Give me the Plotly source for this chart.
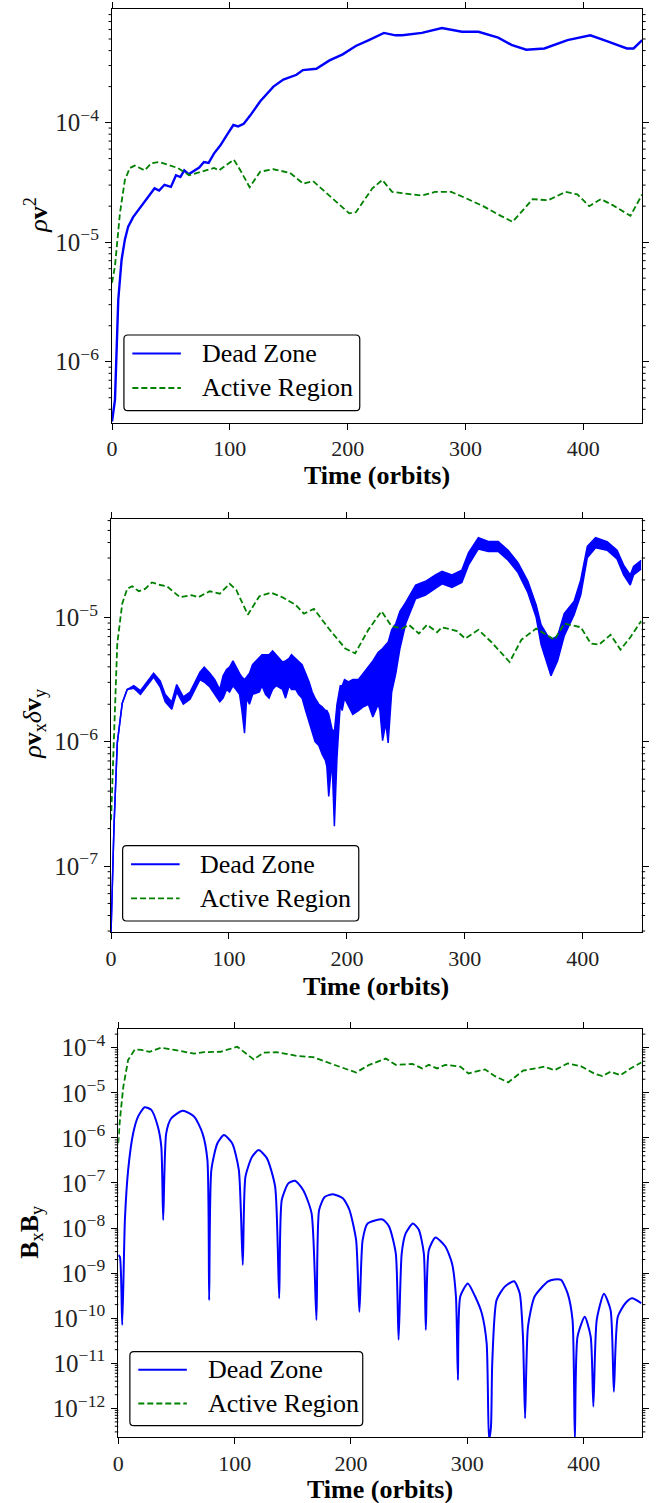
import math
import plotly.graph_objects as go

# ---------------- data ----------------
# Panel 1: rho v^2
p1_dead_t = [0, 2.5, 5.3, 8.1, 10.9, 13.7, 17.9, 24.9, 30.5, 36.1, 40, 44.5, 50, 54.3, 58, 61.3, 65, 69.7, 74, 78,
             82, 86.5, 92, 97.7, 103, 107, 111.8, 117.4, 125.8, 137, 145.4, 156.6, 162, 173.4, 184.6, 195.8,
             206.9, 218, 230.8, 240.6, 246.4, 263, 280, 297, 311, 327.8, 339, 351.6, 367, 386.6, 406, 420,
             437, 442.7, 450]
p1_dead_v = [3.16e-7, 4.8e-7, 3.3e-6, 7.1e-6, 1.05e-5, 1.35e-5, 1.62e-5, 2.0e-5, 2.4e-5, 2.82e-5, 2.7e-5, 3.02e-5,
             2.9e-5, 3.63e-5, 3.5e-5, 3.98e-5, 3.7e-5, 3.98e-5, 4.2e-5, 4.68e-5,
             4.6e-5, 5.5e-5, 6.46e-5, 7.94e-5, 9.55e-5, 9.3e-5, 9.77e-5, 1.15e-4, 1.51e-4, 2.0e-4, 2.29e-4, 2.51e-4,
             2.75e-4, 2.82e-4, 3.31e-4, 3.72e-4,
             4.37e-4, 4.9e-4, 5.62e-4, 5.37e-4, 5.37e-4, 5.62e-4, 6.17e-4, 5.75e-4, 5.75e-4, 5.13e-4, 4.47e-4,
             4.07e-4, 4.17e-4, 4.9e-4, 5.37e-4, 4.79e-4,
             4.17e-4, 4.17e-4, 4.9e-4]
p1_active_t = [0, 2.5, 6.7, 10.9, 15.1, 19.3, 27.7, 33.3, 40.3, 47.3, 55.7, 65.5, 75.4, 86.6, 90.8, 103.4, 109,
               116.8, 125.8, 137, 151, 162.2, 170.6, 184.6, 201.4, 207, 221, 229.4, 237.8, 246.2, 263, 274, 288,
               300, 315, 330, 340, 350, 357, 370, 385, 395, 405, 415, 425, 440, 450]
p1_active_v = [4.57e-6, 6.31e-6, 1.74e-5, 3.31e-5, 4.17e-5, 4.37e-5, 3.98e-5, 4.57e-5, 4.68e-5, 4.47e-5, 4.17e-5,
               3.63e-5, 3.89e-5, 4.17e-5, 3.98e-5, 4.9e-5, 3.98e-5,
               2.88e-5, 3.89e-5, 4.07e-5, 3.8e-5, 3.09e-5, 3.24e-5, 2.45e-5, 1.74e-5, 1.78e-5, 2.82e-5, 3.31e-5,
               2.63e-5, 2.57e-5, 2.45e-5, 2.63e-5, 2.63e-5,
               2.34e-5, 2.0e-5, 1.66e-5, 1.48e-5, 1.91e-5, 2.29e-5, 2.24e-5, 2.63e-5, 2.51e-5, 2.0e-5, 2.29e-5,
               2.04e-5, 1.66e-5, 2.51e-5]

# Panel 2: rho vx dvy  (Dead Zone drawn as its upper/lower noise envelope)
p2_dead_t = [0, 2.5, 5.3, 9.5, 13.7, 19.3, 24.9, 30.5, 36.1, 41.7, 46, 51.5, 55.7, 61.3, 67, 75.4, 79, 83.8, 88,
             92.2, 95, 98, 100.5, 103.4, 106, 109, 111, 113.2, 115, 117.4, 120, 125.8, 128, 131, 134, 137, 140,
             145.4, 148, 151, 153, 156.6, 159, 162, 165, 168, 170.6, 173, 176.2, 179, 181.8, 183, 184.6, 186,
             187.4, 189.4, 191.6, 194.4, 196, 198, 201.4, 205, 209.8, 214, 218.2, 222, 226.6, 228, 230.3, 233,
             235, 238, 241.5, 245, 249.9, 258.3, 266.7, 275.1, 280.7, 289.1, 297.5, 303.1, 311.5, 319.9, 328.3,
             336.7, 345.1, 353.5, 360.5, 364.7, 370.3, 373.1, 378.7, 384.3, 392.7, 398.3, 403.9, 410.9, 420.7,
             429.1, 434.7, 440.3, 443.1, 449.6]
p2_dead_hi = [2.95e-8, 2.09e-7, 9.77e-7, 2.04e-6, 2.63e-6, 2.82e-6, 2.57e-6, 3.02e-6, 3.55e-6, 3.09e-6, 2.40e-6,
              2.09e-6, 2.88e-6, 2.29e-6, 2.51e-6, 3.63e-6, 3.98e-6, 3.55e-6, 3.16e-6,
              2.63e-6, 3.39e-6, 3.80e-6, 3.98e-6, 4.47e-6, 3.98e-6, 3.55e-6, 3.31e-6, 3.16e-6, 3.31e-6, 3.55e-6,
              4.17e-6, 4.79e-6, 5.01e-6, 5.01e-6, 5.01e-6, 5.37e-6, 5.01e-6,
              4.37e-6, 4.47e-6, 4.68e-6, 5.01e-6, 4.68e-6, 4.47e-6, 4.17e-6, 3.55e-6, 3.02e-6, 2.51e-6, 2.24e-6,
              2.0e-6, 1.91e-6, 1.78e-6, 1.78e-6, 1.66e-6, 1.41e-6,
              1.26e-6, 1.20e-6, 2.0e-6, 2.82e-6, 2.82e-6, 3.16e-6, 3.02e-6, 3.16e-6, 3.16e-6, 3.55e-6, 3.98e-6,
              4.47e-6, 5.25e-6, 5.37e-6, 5.62e-6, 6.03e-6,
              6.31e-6, 7.94e-6, 8.91e-6, 1.12e-5, 1.32e-5, 1.82e-5, 1.95e-5, 2.19e-5, 2.34e-5, 2.19e-5, 2.40e-5,
              3.31e-5, 4.37e-5, 4.07e-5, 4.07e-5,
              3.47e-5, 2.75e-5, 1.95e-5, 1.26e-5, 8.71e-6, 7.08e-6, 6.61e-6, 7.08e-6, 1.07e-5, 1.35e-5, 2.0e-5,
              3.72e-5, 4.37e-5, 4.07e-5,
              3.47e-5, 2.63e-5, 2.19e-5, 2.57e-5, 2.88e-5]
p2_dead_lo = [2.95e-8, 2.09e-7, 9.77e-7, 2.04e-6, 2.63e-6, 2.69e-6, 2.40e-6, 2.82e-6, 3.31e-6, 2.75e-6, 2.09e-6,
              1.82e-6, 2.51e-6, 2.0e-6, 2.19e-6, 3.16e-6, 3.02e-6, 2.75e-6, 2.40e-6,
              2.09e-6, 2.24e-6, 2.63e-6, 2.51e-6, 2.82e-6, 2.63e-6, 2.40e-6, 1.78e-6, 1.17e-6, 2.24e-6, 2.0e-6,
              2.40e-6, 2.51e-6, 2.82e-6, 2.40e-6, 2.24e-6, 2.63e-6, 2.82e-6,
              2.63e-6, 2.24e-6, 2.82e-6, 2.63e-6, 2.63e-6, 2.40e-6, 2.24e-6, 1.78e-6, 1.41e-6, 1.20e-6, 1.0e-6,
              9.33e-7, 7.94e-7, 7.08e-7, 6.31e-7, 3.63e-7, 5.01e-7,
              7.08e-7, 2.09e-7, 7.41e-7, 2.0e-6, 1.78e-6, 2.24e-6, 1.91e-6, 1.66e-6, 1.78e-6, 1.91e-6, 2.0e-6,
              1.58e-6, 2.0e-6, 1.78e-6, 1.02e-6, 1.41e-6,
              9.77e-7, 2.51e-6, 3.55e-6, 5.62e-6, 8.91e-6, 1.41e-5, 1.51e-5, 1.70e-5, 1.86e-5, 1.74e-5, 1.91e-5,
              2.63e-5, 3.55e-5, 3.39e-5, 3.39e-5,
              2.88e-5, 2.29e-5, 1.58e-5, 1.0e-5, 6.03e-6, 3.98e-6, 3.39e-6, 4.47e-6, 7.08e-6, 1.05e-5, 1.51e-5,
              3.02e-5, 3.63e-5, 3.47e-5,
              2.95e-5, 2.19e-5, 1.82e-5, 2.19e-5, 2.45e-5]
p2_active_t = [0, 2.5, 5.3, 9.5, 13.7, 17.9, 23.5, 29.1, 34.7, 41.7, 47.3, 58.5, 68.3, 73.9, 83.6, 92.2, 100.6,
               106.2, 116, 125.8, 135.6, 145.4, 156.6, 163.6, 172, 184.6, 198.6, 207, 218.2, 229.4, 237.8, 247,
               252.6, 261, 268, 276.5, 280.7, 293.3, 300.3, 311.5, 322.7, 338, 348, 360.5, 376, 384.4, 398.4,
               406.8, 413.8, 423.6, 432, 440.4, 449.6]
p2_active_v = [2.34e-7, 9.77e-7, 6.17e-6, 1.29e-5, 1.70e-5, 1.78e-5, 1.62e-5, 1.70e-5, 1.91e-5, 1.82e-5, 1.78e-5,
               1.45e-5, 1.51e-5, 1.45e-5, 1.62e-5, 1.55e-5, 1.86e-5,
               1.66e-5, 1.05e-5, 1.48e-5, 1.58e-5, 1.45e-5, 1.26e-5, 1.07e-5, 1.17e-5, 8.13e-6, 5.62e-6, 5.13e-6,
               7.94e-6, 1.12e-5, 8.51e-6, 8.13e-6,
               8.71e-6, 7.41e-6, 8.71e-6, 7.59e-6, 8.32e-6, 7.76e-6, 6.76e-6, 7.94e-6, 6.31e-6, 4.37e-6, 6.61e-6,
               8.13e-6, 6.61e-6, 8.91e-6, 8.32e-6,
               6.17e-6, 6.03e-6, 7.24e-6, 5.5e-6, 6.92e-6, 9.33e-6]

# Panel 3: Bx By
p3_dead_t = [0, 1.4, 3.4, 5.7, 8.5, 12.8, 17, 22.7, 28.4, 34, 37, 38.6, 41.2, 45.4, 55.4, 65.3, 72.4, 76.6, 78.1,
             80, 85.2, 90.8, 97.9, 103.6, 107, 109.3, 115, 120.6, 127.7, 134.8, 138.3, 140.5, 146.2, 151.9, 159,
             166.1, 170.3, 172.6, 177.4, 184.5, 193, 198.7, 204.4, 207.2, 210, 214.3, 227.1, 232.8, 238.5, 240.9,
             243.6, 247, 253.2, 258.3, 262.6, 264.3, 266.9, 272.6, 281.1, 286.8, 290.2, 291.9, 293.9, 300.4,
             306.7, 312.4, 316.6, 318.6, 320.3, 321.4, 325.1, 332.2, 340.2, 345, 347.8, 349.6, 352.1, 357.8,
             369.1, 374.8, 380.5, 386.2, 390.4, 392.4, 394.7, 400.9, 406, 408.3, 411.2, 417.4, 423.1, 425.9,
             429.3, 435.8, 441.5, 449.5]
p3_dead_v = [2.51e-9, 2.29e-9, 7.08e-11, 1.51e-8, 1.95e-7, 1.26e-6, 2.95e-6, 4.79e-6, 4.17e-6, 1.78e-6, 6.31e-7,
             1.51e-8, 1.26e-6, 2.69e-6, 3.98e-6, 2.95e-6, 1.26e-6, 3.24e-7, 2.51e-10,
             1.95e-7, 7.59e-7, 1.15e-6, 7.59e-7, 1.95e-7, 1.51e-9, 1.38e-7, 3.80e-7, 5.37e-7, 3.55e-7, 8.32e-8,
             2.75e-10, 4.17e-8, 9.77e-8, 1.12e-7, 6.92e-8,
             2.14e-8, 9.12e-11, 2.51e-8, 4.90e-8, 5.62e-8, 4.57e-8, 2.51e-8, 5.37e-9, 1.38e-10, 5.37e-9, 1.26e-8,
             1.55e-8, 1.07e-8, 2.75e-9, 3.31e-11,
             2.75e-9, 7.59e-9, 1.26e-8, 9.12e-9, 2.75e-9, 5.50e-11, 3.24e-9, 6.17e-9, 3.89e-9, 1.66e-9, 3.02e-10,
             4.27e-12, 3.02e-10, 5.89e-10,
             3.02e-10, 1.29e-10, 2.75e-11, 2.0e-13, 3.89e-13, 1.0e-11, 2.51e-10, 5.01e-10, 6.61e-10, 3.55e-10,
             3.89e-11, 6.03e-13, 6.46e-11, 3.02e-10,
             6.46e-10, 7.24e-10, 7.08e-10, 3.55e-10, 9.12e-11, 2.0e-13, 3.89e-11, 1.07e-10, 3.89e-11, 1.10e-12,
             9.12e-11, 3.47e-10, 1.51e-10, 2.34e-12,
             1.07e-10, 2.14e-10, 2.75e-10, 2.14e-10]
p3_active_t = [0, 1.4, 4.3, 8.5, 14.2, 19.9, 27, 36.9, 48.3, 65.3, 73.8, 88, 102.2, 116.4, 124.9, 136.3, 153.3,
               167.5, 184.5, 204.4, 215.7, 229.9, 238.5, 252.7, 261.2, 266.9, 274, 281.1, 293.9, 301, 315.2,
               323.7, 335.1, 347.8, 366.3, 374.8, 386.2, 397.5, 408.9, 416, 423.1, 431.6, 440.2, 449.5]
p3_active_v = [7.59e-7, 2.51e-6, 1.35e-5, 5.37e-5, 9.12e-5, 8.91e-5, 8.13e-5, 1.0e-4, 8.91e-5, 7.41e-5, 7.94e-5,
               8.13e-5, 1.05e-4, 5.5e-5, 7.76e-5, 7.94e-5, 6.61e-5,
               6.17e-5, 4.27e-5, 2.82e-5, 4.17e-5, 5.75e-5, 4.17e-5, 4.37e-5, 3.47e-5, 4.17e-5, 3.47e-5, 4.17e-5,
               3.80e-5, 2.69e-5, 3.31e-5,
               2.34e-5, 1.70e-5, 3.09e-5, 3.80e-5, 3.16e-5, 4.47e-5, 3.89e-5, 2.69e-5, 2.34e-5, 2.95e-5, 2.45e-5,
               3.47e-5, 4.68e-5]

series_names = ["Dead Zone", "Active Region"]
y_titles = ["<i>ρ</i><b>v</b><sup>2</sup>",
            "<i>ρ</i><b>v</b><sub>x</sub><i>δ</i><b>v</b><sub>y</sub>",
            "<b>B</b><sub>x</sub><b>B</b><sub>y</sub>"]
x_title = "<b>Time (orbits)</b>"
x_ticks = [0, 100, 200, 300, 400]
y_tick_exponents = [[-6, -5, -4],
                    [-7, -6, -5],
                    [-12, -11, -10, -9, -8, -7, -6, -5, -4]]

# ---------------- layout geometry (pixels) ----------------
W, H = 662, 1503
FONT = "Liberation Serif"
BLUE, GREEN = "#0000ff", "#008000"
DASH = "6px,3px"
MINOR_LEN = 3.5

# plot box (left, right, top, bottom) px, log10 y-range, legend box px, y-title centre, x-title centre y
panels = [
    dict(box=(107, 642, 9, 422.7), yr=(-6.51, -3.05), leg=(119, 335, 357, 410.7), ytit=(30, 215), xtit=476),
    dict(box=(106, 641.5, 519, 932.3), yr=(-7.533, -4.209), leg=(117.7, 845.7, 356, 921), ytit=(28, 723),
         xtit=986),
    dict(box=(113.3, 641.7, 1029, 1437.3), yr=(-12.643, -3.585), leg=(125, 1351.7, 360, 1425.7),
         ytit=(25, 1232), xtit=1489),
]

fig = go.Figure()

# panel 1
fig.add_trace(go.Scatter(x=p1_dead_t, y=p1_dead_v, name=series_names[0], mode="lines",
                         line=dict(color=BLUE, width=2.4), xaxis="x", yaxis="y"))
fig.add_trace(go.Scatter(x=p1_active_t, y=p1_active_v, name=series_names[1], mode="lines",
                         line=dict(color=GREEN, width=1.8, dash=DASH), xaxis="x", yaxis="y"))
# panel 2
fig.add_trace(go.Scatter(x=p2_dead_t, y=p2_dead_hi, name=series_names[0], mode="lines",
                         line=dict(color=BLUE, width=1.5), xaxis="x2", yaxis="y2"))
fig.add_trace(go.Scatter(x=p2_dead_t, y=p2_dead_lo, name=series_names[0], mode="lines",
                         line=dict(color=BLUE, width=1.5), fill="tonexty", fillcolor=BLUE,
                         xaxis="x2", yaxis="y2"))
fig.add_trace(go.Scatter(x=p2_active_t, y=p2_active_v, name=series_names[1], mode="lines",
                         line=dict(color=GREEN, width=1.8, dash=DASH), xaxis="x2", yaxis="y2"))
# panel 3
fig.add_trace(go.Scatter(x=p3_dead_t, y=p3_dead_v, name=series_names[0], mode="lines",
                         line=dict(color=BLUE, width=2, shape="spline", smoothing=0.6),
                         xaxis="x3", yaxis="y3"))
fig.add_trace(go.Scatter(x=p3_active_t, y=p3_active_v, name=series_names[1], mode="lines",
                         line=dict(color=GREEN, width=1.8, dash=DASH), xaxis="x3", yaxis="y3"))

layout = dict(width=W, height=H, margin=dict(l=0, r=0, t=0, b=0), paper_bgcolor="white",
              plot_bgcolor="white", font=dict(family=FONT, color="black", size=22), showlegend=False,
              annotations=[], shapes=[])


def px(x):
    return x / W


def py(y):
    return 1 - y / H


def rounded_box(x0, y0, x1, y1, r=4):
    pts = [("M", x0 + r, y0), ("L", x1 - r, y0), ("Q", x1, y0, x1, y0 + r), ("L", x1, y1 - r),
           ("Q", x1, y1, x1 - r, y1), ("L", x0 + r, y1), ("Q", x0, y1, x0, y1 - r), ("L", x0, y0 + r),
           ("Q", x0, y0, x0 + r, y0)]
    s = ""
    for p in pts:
        cmd, coords = p[0], p[1:]
        xy = []
        for i in range(0, len(coords), 2):
            xy.append(f"{px(coords[i]):.5f},{py(coords[i + 1]):.5f}")
        s += cmd + " ".join(xy) + " "
    return s + "Z"


for i, p in enumerate(panels):
    l, r, t, b = p["box"]
    sfx = "" if i == 0 else str(i + 1)
    axcommon = dict(showline=True, linecolor="black", linewidth=1.2, mirror="allticks", ticks="outside",
                    tickcolor="black", tickwidth=1.2, ticklen=6, showgrid=False, zeroline=False)
    ydom = [1 - b / H, 1 - t / H]
    layout["xaxis" + sfx] = dict(axcommon, domain=[l / W, r / W], range=[0, 450], tickmode="array",
                                 tickvals=x_ticks, anchor="y" + sfx,
                                 tickfont=dict(family=FONT, size=22, color="#222222"))
    exps = y_tick_exponents[i]
    layout["yaxis" + sfx] = dict(axcommon, domain=ydom, type="log", range=list(p["yr"]),
                                 tickmode="array", tickvals=[10.0 ** e for e in exps],
                                 ticktext=[f"10<sup>−{-e}</sup>" for e in exps],
                                 anchor="x" + sfx, ticklabelstandoff=1,
                                 tickfont=dict(family=FONT, size=25, color="#222222"))
    # minor log ticks (2..9 x 10^k) on both vertical spines (axis scale mapped onto the panel box)
    r0, r1 = p["yr"]
    lo_e, hi_e = math.floor(r0), math.ceil(r1)
    for e in range(lo_e, hi_e + 1):
        for m in range(2, 10):
            lv = e + math.log10(m)
            if r0 < lv < r1:
                ypix = b - (lv - r0) / (r1 - r0) * (b - t)
                for (xa, xb) in [(l - MINOR_LEN, l), (r, r + MINOR_LEN)]:
                    layout["shapes"].append(dict(type="line", xref="paper", yref="paper",
                                                 x0=px(xa), x1=px(xb), y0=py(ypix), y1=py(ypix),
                                                 layer="above", line=dict(color="black", width=1)))
    # legend (box, line samples, labels)
    lx0, ly0, lx1, ly1 = p["leg"]
    layout["shapes"].append(dict(type="path", path=rounded_box(lx0, ly0, lx1, ly1), xref="paper", yref="paper",
                                 line=dict(color="black", width=1.2), fillcolor="rgba(255,255,255,0.85)",
                                 layer="above"))
    row1 = ly0 + 0.245 * (ly1 - ly0)
    row2 = ly0 + 0.70 * (ly1 - ly0)
    for (rowy, col, dash, name) in [(row1, BLUE, "solid", series_names[0]),
                                    (row2, GREEN, DASH, series_names[1])]:
        layout["shapes"].append(dict(type="line", xref="paper", yref="paper", x0=px(lx0 + 8.5),
                                     x1=px(lx0 + 57.5), y0=py(rowy), y1=py(rowy), layer="above",
                                     line=dict(color=col, width=2 if dash == "solid" else 1.8, dash=dash)))
        layout["annotations"].append(dict(text=name, x=px(lx0 + 76.5), y=py(rowy), xref="paper",
                                          yref="paper", showarrow=False, xanchor="left", yanchor="middle",
                                          font=dict(family=FONT, size=26, color="black")))
    tx, ty = p["ytit"]
    layout["annotations"].append(dict(text=y_titles[i], x=px(tx), y=py(ty), xref="paper", yref="paper",
                                      showarrow=False, textangle=-90, font=dict(family=FONT, size=26),
                                      xanchor="center", yanchor="middle"))
    layout["annotations"].append(dict(text=x_title, x=px((l + r) / 2), y=py(p["xtit"]), xref="paper",
                                      yref="paper", showarrow=False, font=dict(family=FONT, size=26),
                                      xanchor="center", yanchor="middle"))

fig.update_layout(**layout)
fig.write_html("out.html")
